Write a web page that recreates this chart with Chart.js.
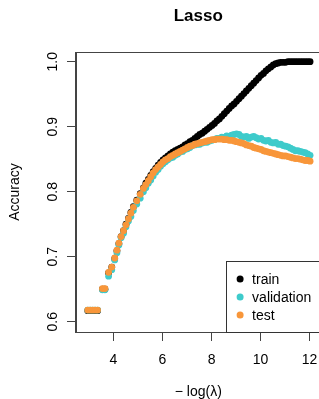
<!DOCTYPE html>
<html>
<head>
<meta charset="utf-8">
<script src="https://cdn.jsdelivr.net/npm/chart.js@4"></script>
<style>
html, body { margin: 0; padding: 0; overflow: hidden; background: #fff; }
canvas { display: block; }
</style>
</head>
<body>
<canvas id="lasso" width="324" height="399"></canvas>
<script>
// -log(lambda) values along the path
var lambdaLog = [
    2.95, 3.05, 3.15, 3.25, 3.35, 3.55, 3.65, 3.80, 3.93, 4.05,
    4.14, 4.22, 4.31, 4.41, 4.51, 4.61, 4.71, 4.81, 4.95, 5.09,
    5.22, 5.32, 5.42, 5.52, 5.62, 5.72, 5.82, 5.92, 6.02, 6.12,
    6.22, 6.32, 6.42, 6.52, 6.62, 6.72, 6.82, 6.92, 7.02, 7.12,
    7.22, 7.32, 7.42, 7.52, 7.62, 7.72, 7.82, 7.92, 8.02, 8.12,
    8.22, 8.32, 8.42, 8.52, 8.62, 8.72, 8.82, 8.92, 9.02, 9.12,
    9.22, 9.32, 9.42, 9.52, 9.62, 9.72, 9.82, 9.92, 10.02, 10.12,
    10.22, 10.32, 10.42, 10.52, 10.62, 10.72, 10.82, 10.92, 11.02, 11.12,
    11.22, 11.32, 11.42, 11.52, 11.62, 11.72, 11.82, 11.92, 12.02
];

var train = [
    0.617, 0.617, 0.617, 0.617, 0.617, 0.650, 0.650, 0.675, 0.684, 0.697,
    0.709, 0.720, 0.731, 0.740, 0.750, 0.759, 0.768, 0.777, 0.787, 0.797,
    0.806, 0.813, 0.819, 0.825, 0.831, 0.836, 0.841, 0.845, 0.849, 0.852,
    0.855, 0.858, 0.861, 0.863, 0.865, 0.867, 0.869, 0.872, 0.874, 0.877,
    0.879, 0.882, 0.885, 0.888, 0.890, 0.893, 0.896, 0.899, 0.902, 0.905,
    0.909, 0.912, 0.916, 0.920, 0.924, 0.928, 0.932, 0.935, 0.939, 0.943,
    0.947, 0.951, 0.955, 0.959, 0.963, 0.967, 0.971, 0.975, 0.979, 0.982,
    0.986, 0.989, 0.992, 0.995, 0.997, 0.998, 0.999, 0.999, 0.999, 1.000,
    1.000, 1.000, 1.000, 1.000, 1.000, 1.000, 1.000, 1.000, 1.000
];

var validation = [
    0.618, 0.618, 0.618, 0.618, 0.618, 0.649, 0.649, 0.670, 0.680, 0.695,
    0.706, 0.718, 0.729, 0.736, 0.746, 0.755, 0.762, 0.771, 0.781, 0.790,
    0.800, 0.806, 0.813, 0.818, 0.824, 0.830, 0.834, 0.839, 0.843, 0.846,
    0.849, 0.852, 0.853, 0.856, 0.858, 0.861, 0.862, 0.865, 0.866, 0.868,
    0.871, 0.872, 0.873, 0.873, 0.875, 0.876, 0.876, 0.878, 0.879, 0.880,
    0.882, 0.882, 0.884, 0.883, 0.886, 0.885, 0.887, 0.888, 0.889, 0.888,
    0.885, 0.884, 0.885, 0.882, 0.884, 0.885, 0.883, 0.881, 0.882, 0.879,
    0.878, 0.879, 0.876, 0.875, 0.876, 0.873, 0.873, 0.871, 0.870, 0.869,
    0.867, 0.865, 0.863, 0.863, 0.862, 0.861, 0.860, 0.858, 0.856
];

var test = [
    0.618, 0.618, 0.618, 0.618, 0.618, 0.651, 0.651, 0.676, 0.684, 0.698,
    0.710, 0.721, 0.731, 0.740, 0.749, 0.758, 0.767, 0.776, 0.786, 0.796,
    0.805, 0.811, 0.817, 0.823, 0.829, 0.834, 0.838, 0.842, 0.846, 0.849,
    0.851, 0.854, 0.856, 0.858, 0.860, 0.862, 0.864, 0.866, 0.868, 0.870,
    0.871, 0.873, 0.874, 0.875, 0.876, 0.877, 0.878, 0.879, 0.880, 0.880,
    0.881, 0.881, 0.881, 0.880, 0.880, 0.879, 0.879, 0.878, 0.877, 0.876,
    0.875, 0.874, 0.872, 0.871, 0.870, 0.868, 0.867, 0.866, 0.865, 0.863,
    0.862, 0.861, 0.860, 0.859, 0.858, 0.857, 0.856, 0.855, 0.855, 0.854,
    0.853, 0.852, 0.851, 0.851, 0.850, 0.849, 0.848, 0.848, 0.847
];

var xTicks = [4, 6, 8, 10, 12];
var yTicks = [0.6, 0.7, 0.8, 0.9, 1.0];
var seriesNames = ['train', 'validation', 'test'];
var seriesColors = ['#000000', '#3ECBCB', '#F8963A'];

var FONT = "'Liberation Sans', Arial, sans-serif";
var AXIS = '#444';

function toPoints(ys){
    return lambdaLog.map(function(x, i){ return {x: x, y: ys[i]}; });
}

function dataset(i, ys){
    return {
        label: seriesNames[i],
        data: toPoints(ys),
        backgroundColor: seriesColors[i],
        borderWidth: 0,
        pointRadius: 3.4,
        pointHoverRadius: 3.4,
        order: 3 - i   // test drawn on top, like R
    };
}

// title, box and legend drawn the way R's plot() does
var rPlot = {
    id: 'rPlot',
    afterDatasetsDraw: function(chart){
        var ctx = chart.ctx;
        var a = chart.chartArea;
        ctx.save();
        ctx.strokeStyle = AXIS;
        ctx.lineWidth = 1;
        ctx.strokeRect(Math.round(a.left) - 0.5, Math.round(a.top) + 0.5,
                       Math.round(a.right - a.left) + 1, Math.round(a.bottom - a.top));

        // main title
        ctx.fillStyle = '#000';
        ctx.font = 'bold 17px ' + FONT;
        ctx.textAlign = 'center';
        ctx.textBaseline = 'middle';
        ctx.fillText('Lasso', (a.left + a.right) / 2, 16);

        // legend, bottom right
        var w = 95, h = 71;
        var lx = a.right - w, ly = a.bottom - h;
        ctx.fillStyle = '#fff';
        ctx.fillRect(lx, ly, w, h);
        ctx.strokeStyle = '#333';
        ctx.strokeRect(Math.round(lx) + 0.5, Math.round(ly) + 0.5, w, h);
        ctx.font = '14px ' + FONT;
        ctx.textAlign = 'left';
        chart.data.datasets.forEach(function(ds, i){
            var y = ly + 18 + i * 18;
            ctx.fillStyle = ds.backgroundColor;
            ctx.beginPath();
            ctx.arc(lx + 14.5, y, 3.5, 0, Math.PI * 2);
            ctx.fill();
            ctx.fillStyle = '#000';
            ctx.fillText(ds.label, lx + 26.5, y + 1);
        });
        ctx.restore();
    }
};

new Chart(document.getElementById('lasso'), {
    type: 'scatter',
    data: {
        datasets: [dataset(0, train), dataset(1, validation), dataset(2, test)]
    },
    options: {
        responsive: false,
        animation: false,
        layout: { padding: { top: 52, right: 3, left: 0, bottom: 0 } },
        plugins: {
            legend: { display: false },
            tooltip: { enabled: false }
        },
        scales: {
            x: {
                type: 'linear',
                min: 2.47,
                max: 12.45,
                afterBuildTicks: function(s){ s.ticks = xTicks.map(function(v){ return {value: v}; }); },
                afterFit: function(s){ s.height = 67; s.paddingLeft = 0; s.paddingRight = 0; },
                grid: { drawOnChartArea: false, drawTicks: true, tickLength: 9, color: AXIS },
                border: { display: true, color: AXIS },
                ticks: { padding: 11, color: '#000', font: { family: FONT, size: 14 }, maxRotation: 0, autoSkip: false },
                title: { display: true, text: '\u2212 log(\u03bb)', color: '#000', font: { family: FONT, size: 14, lineHeight: 1 }, padding: { top: 0, bottom: 0 } }
            },
            y: {
                min: 0.5842,
                max: 1.0149,
                afterBuildTicks: function(s){ s.ticks = yTicks.map(function(v){ return {value: v}; }); },
                afterFit: function(s){ s.width = 76; s.paddingTop = 0; s.paddingBottom = 0; },
                grid: { drawOnChartArea: false, drawTicks: true, tickLength: 9, color: AXIS },
                border: { display: true, color: AXIS },
                ticks: {
                    minRotation: 90, maxRotation: 90, crossAlign: 'center', padding: 4,
                    color: '#000', font: { family: FONT, size: 14 },
                    callback: function(v){ return Number(v).toFixed(1); }
                },
                title: { display: true, text: 'Accuracy', color: '#000', font: { family: FONT, size: 14 }, padding: { top: 7, bottom: 0 } }
            }
        }
    },
    plugins: [rPlot]
});
</script>
</body>
</html>
